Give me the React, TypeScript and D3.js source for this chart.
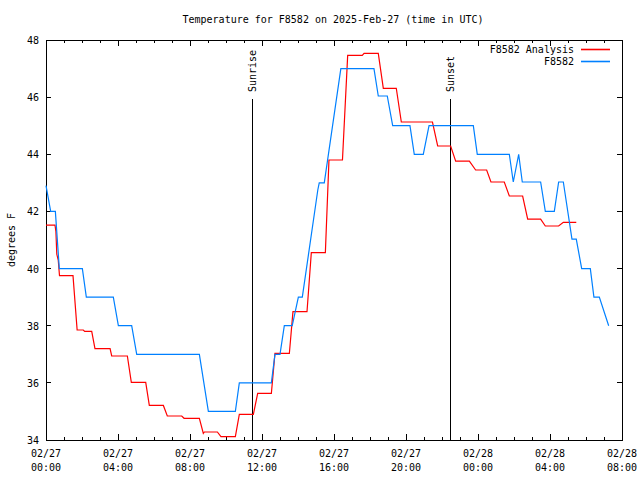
import React from "react";
import * as d3 from "d3";

const title = "Temperature for F8582 on 2025-Feb-27 (time in UTC)";
const yLabel = "degrees F";
const seriesNames = ["F8582 Analysis", "F8582"];
const seriesColors = ["#ff0000", "#0080ff"];

// hours since 2025-02-27 00:00 UTC
const analysisHours = [0, 0.5, 0.55, 0.6, 0.68, 0.75, 1.5, 1.73, 2.07, 2.15, 2.54, 2.72, 3.56, 3.65, 4.52, 4.74, 5.54, 5.74, 6.52, 6.74, 7.54, 7.67, 8.52, 8.74, 8.8, 9.52, 9.72, 10.52, 10.74, 11.52, 11.76, 12.52, 12.72, 13.52, 13.72, 14.5, 14.74, 15.52, 15.72, 16.47, 16.76, 17.57, 17.67, 18.46, 18.74, 19.46, 19.74, 21.47, 21.76, 22.48, 22.76, 23.52, 23.87, 24.48, 24.72, 25.46, 25.74, 26.48, 26.76, 27.48, 27.74, 28.48, 28.74, 29.46];
const analysisTemps = [41.52, 41.52, 41.3, 40.5, 40.3, 39.75, 39.75, 37.85, 37.85, 37.8, 37.8, 37.2, 37.2, 36.94, 36.94, 36.02, 36.02, 35.21, 35.21, 34.84, 34.84, 34.76, 34.76, 34.23, 34.28, 34.28, 34.12, 34.12, 34.9, 34.9, 35.63, 35.63, 37.03, 37.03, 38.49, 38.49, 40.56, 40.56, 43.8, 43.8, 47.46, 47.46, 47.53, 47.53, 46.31, 46.31, 45.13, 45.13, 44.29, 44.29, 43.76, 43.76, 43.45, 43.45, 43.03, 43.03, 42.54, 42.54, 41.73, 41.73, 41.49, 41.49, 41.62, 41.62];

const obsHours = [0, 0.26, 0.52, 0.74, 2.02, 2.24, 3.74, 4.02, 4.76, 5.04, 8.52, 9.02, 10.52, 10.74, 12.52, 12.72, 13.0, 13.24, 13.68, 14.02, 14.24, 15.1, 15.18, 15.46, 16.38, 18.22, 18.46, 18.96, 19.26, 20.22, 20.46, 20.96, 21.28, 23.74, 23.96, 25.74, 25.96, 26.26, 26.46, 27.48, 27.74, 28.24, 28.48, 28.74, 29.22, 29.46, 29.76, 30.24, 30.44, 30.74, 31.26];
const obsTemps = [42.9, 42.0, 42.0, 40.0, 40.0, 39.0, 39.0, 38.0, 38.0, 37.0, 37.0, 35.0, 35.0, 36.0, 36.0, 37.0, 37.0, 38.0, 38.0, 39.0, 39.0, 42.75, 43.0, 43.0, 47.0, 47.0, 46.04, 46.04, 45.0, 45.0, 44.0, 44.0, 45.0, 45.0, 44.0, 44.0, 43.03, 44.0, 43.03, 43.03, 42.0, 42.0, 43.03, 43.03, 41.03, 41.03, 40.0, 40.0, 39.0, 39.0, 38.0];

const yTicks = [34, 36, 38, 40, 42, 44, 46, 48];
const xTickHours = [0, 4, 8, 12, 16, 20, 24, 28, 32];
const xTickDates = ["02/27", "02/27", "02/27", "02/27", "02/27", "02/27", "02/28", "02/28", "02/28"];
const xTickTimes = ["00:00", "04:00", "08:00", "12:00", "16:00", "20:00", "00:00", "04:00", "08:00"];
const markerNames = ["Sunrise", "Sunset"];
const markerHours = [11.44, 22.44];

const W = 640, H = 480;
const left = 46, right = 622, top = 40, bottom = 440;
const font = "'DejaVu Sans Mono', monospace";

export default function App() {
  const x = d3.scaleLinear().domain([0, 32]).range([left, right]);
  const y = d3.scaleLinear().domain([34, 48]).range([bottom, top]);
  const line = d3.line<[number, number]>().x(d => x(d[0])).y(d => y(d[1]));
  const aData: [number, number][] = analysisHours.map((h, i) => [h, analysisTemps[i]]);
  const oData: [number, number][] = obsHours.map((h, i) => [h, obsTemps[i]]);
  const minorHours = d3.range(0, 33);

  return (
    <svg width={W} height={H} style={{ position: "absolute", left: 0, top: 0, background: "#fff" }} fontFamily={font} fontSize={10}>
      <rect x={0} y={0} width={W} height={H} fill="#fff" />
      <text x={333} y={23} textAnchor="middle" fill="#000">{title}</text>
      <g shapeRendering="crispEdges" stroke="#000" strokeWidth={1}>
        {minorHours.map(h => {
          const major = h % 4 === 0;
          const len = major ? 6 : 3;
          return (
            <g key={"xt" + h}>
              <line x1={x(h)} x2={x(h)} y1={bottom} y2={bottom - len} />
              <line x1={x(h)} x2={x(h)} y1={top} y2={top + len} />
            </g>
          );
        })}
        {yTicks.map(v => (
          <g key={"yt" + v}>
            <line x1={left} x2={left + 5} y1={y(v)} y2={y(v)} />
            <line x1={right} x2={right - 5} y1={y(v)} y2={y(v)} />
          </g>
        ))}
        <rect x={left} y={top} width={right - left} height={bottom - top} fill="none" />
        {markerHours.map((h, i) => (
          <line key={"m" + i} x1={Math.round(x(h))} x2={Math.round(x(h))} y1={99} y2={bottom} />
        ))}
      </g>
      {yTicks.map(v => (
        <text key={"yl" + v} x={39} y={y(v) + 4} textAnchor="end" fill="#000">{v}</text>
      ))}
      {xTickHours.map((h, i) => (
        <g key={"xl" + h}>
          <text x={x(h)} y={457} textAnchor="middle" fill="#000">{xTickDates[i]}</text>
          <text x={x(h)} y={471} textAnchor="middle" fill="#000">{xTickTimes[i]}</text>
        </g>
      ))}
      <text transform={`translate(15,${(top + bottom) / 2}) rotate(-90)`} textAnchor="middle" fill="#000">{yLabel}</text>
      {markerHours.map((h, i) => (
        <text key={"mt" + i} transform={`translate(${Math.round(x(h)) + 4},92) rotate(-90)`} textAnchor="start" fill="#000">{markerNames[i]}</text>
      ))}
      <path d={line(aData) || ""} fill="none" stroke={seriesColors[0]} strokeWidth={1.2} />
      <path d={line(oData) || ""} fill="none" stroke={seriesColors[1]} strokeWidth={1.2} />
      {seriesNames.map((n, i) => (
        <g key={"lg" + i}>
          <text x={574} y={53 + i * 12} textAnchor="end" fill="#000">{n}</text>
          <line x1={581} x2={610} y1={49.5 + i * 12} y2={49.5 + i * 12} stroke={seriesColors[i]} strokeWidth={1.6} />
        </g>
      ))}
    </svg>
  );
}
